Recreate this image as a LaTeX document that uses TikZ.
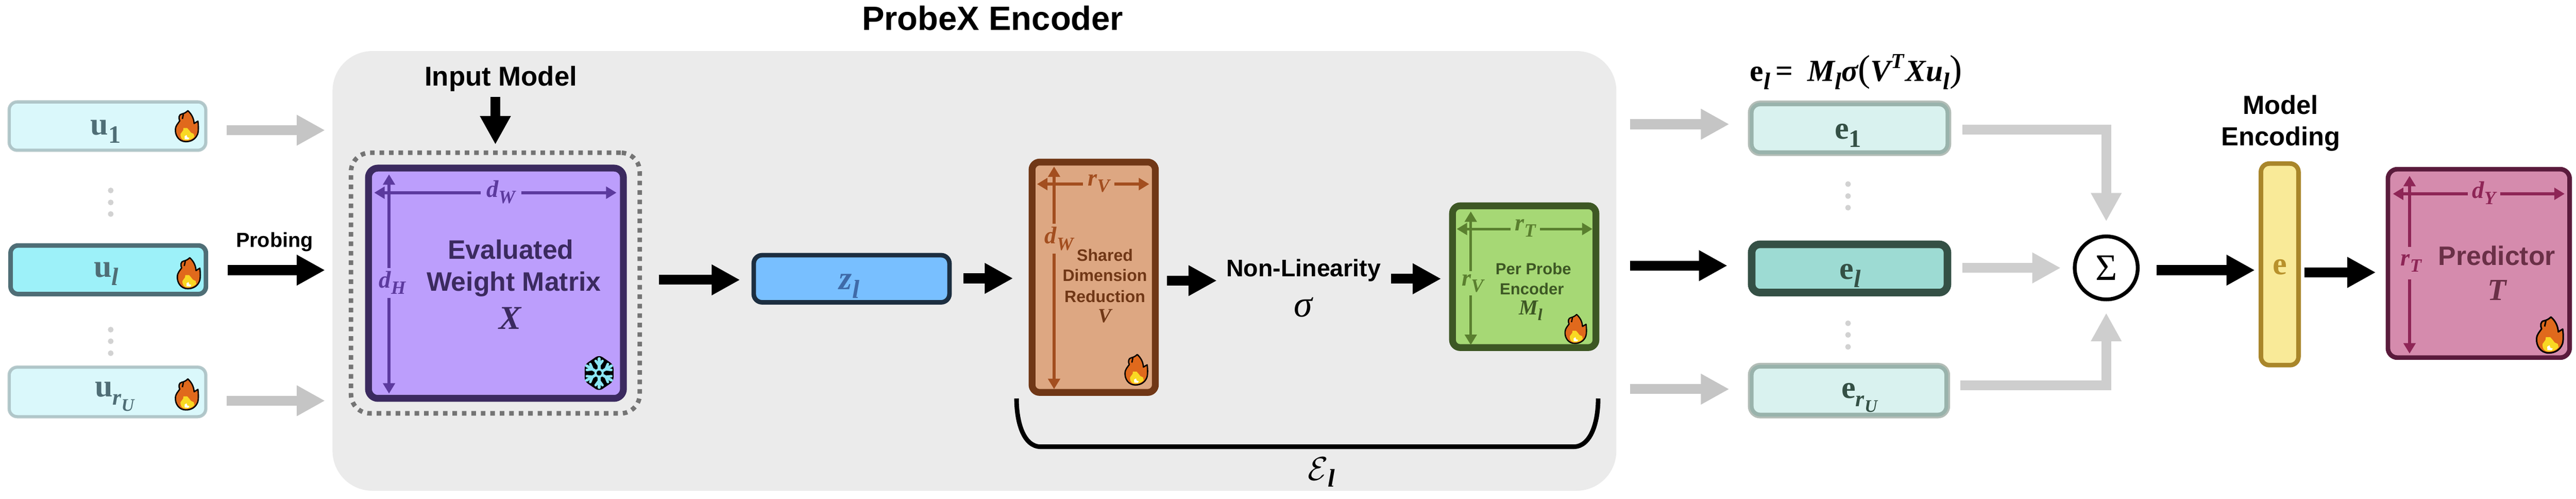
\documentclass[tikz,border=0pt]{standalone}
\usepackage{fontspec}
\usetikzlibrary{arrows.meta,calc}
\setmainfont{Liberation Sans}
\newfontfamily\ser{Liberation Serif}
\def\px{0.28453pt}
\def\py{0.28026pt}
\newcommand\fs[1]{\fontsize{#1}{#1}\selectfont}
\newcommand\bu{\ser\bfseries}
\newcommand\bi{\ser\bfseries\itshape}
\newcommand\msub[3]{{\fs{#1}#2\raisebox{-.26em}{\fs{\fpeval{.78*#1}}#3}}}
\definecolor{pxgray}{HTML}{EBEBEB}
\definecolor{arrgray}{HTML}{C5C5C5}
\definecolor{arrgrayb}{HTML}{CECECE}
\definecolor{dotgray}{HTML}{D2D2D2}
\definecolor{flameor}{HTML}{E0691C}
\definecolor{flameye}{HTML}{F9D823}
\definecolor{icy}{HTML}{8BE6F4}
\definecolor{ulo}{HTML}{B9CBCD}
\definecolor{uli}{HTML}{AFC6C9}
\definecolor{ufl}{HTML}{DAF8FB}
\definecolor{uds}{HTML}{4F6E76}
\definecolor{ufd}{HTML}{9DF1F9}
\definecolor{xs}{HTML}{3B2A5F}
\definecolor{xf}{HTML}{BC9EFC}
\definecolor{xd}{HTML}{5C3A9E}
\definecolor{dotbox}{HTML}{747474}
\definecolor{zs}{HTML}{1C2E40}
\definecolor{zf}{HTML}{78BFFF}
\definecolor{zt}{HTML}{3F6AA8}
\definecolor{vs}{HTML}{703716}
\definecolor{vf}{HTML}{DDA782}
\definecolor{vd}{HTML}{A34E1F}
\definecolor{ms}{HTML}{3D5724}
\definecolor{mf}{HTML}{A6D875}
\definecolor{md}{HTML}{5A7F2F}
\definecolor{elo}{HTML}{B3BDB7}
\definecolor{eli}{HTML}{99B3AC}
\definecolor{efl}{HTML}{D9F2EF}
\definecolor{eds}{HTML}{345045}
\definecolor{efd}{HTML}{9DDBD3}
\definecolor{es}{HTML}{A9862A}
\definecolor{ef}{HTML}{F9EA98}
\definecolor{et}{HTML}{B8912B}
\definecolor{ts}{HTML}{5A1B3C}
\definecolor{tf}{HTML}{D58BAD}
\definecolor{td}{HTML}{8E2556}
\definecolor{tt}{HTML}{6A3047}
\tikzset{
  x=0.01cm,y=-0.00985cm,
  box/.style={rectangle,inner sep=0pt,draw,rounded corners=#1*\px},
  sz/.style n args={2}{minimum width=#1*\px,minimum height=#2*\py},
  lw/.style={line width=#1*\px},
  ubox/.style={box=20,lw=6,draw=uli,fill=ufl,preaction={draw=ulo,line width=11*\px}},
  ebox/.style={box=22,lw=10,draw=eli,fill=efl,preaction={draw=elo,line width=20*\px}},
  txt/.style={inner sep=0pt,font=\bfseries,align=center},
  bigtip/.style={line width=26*\px,-{Triangle[length=21.3pt,width=21.6pt]}},
  blackarr/.style={bigtip,draw=black},
  grayarr/.style={bigtip,draw=arrgray},
  grayarrb/.style={bigtip,draw=arrgrayb},
  dimarr/.style={line width=#1*\px,-{Triangle[length=7.8pt,width=8.8pt]}},
  vdot/.style={circle,fill=dotgray,inner sep=0pt,minimum size=15*\px},
}
\newcommand\flameicon[3]{%
\begin{scope}[shift={(#1,#2)},x={#3/180*0.28453pt},y={-#3/180*0.28453pt}]
\draw[fill=flameor,draw=black,line width={#3/180*2.9pt},line join=round]
 (-5,119) .. controls (-60,119) and (-88,70) .. (-85,25)
 .. controls (-83,-5) and (-65,-20) .. (-52,-40)
 .. controls (-62,-60) and (-60,-90) .. (-35,-93)
 .. controls (-22,-95) and (-2,-105) .. (10,-118)
 .. controls (40,-90) and (55,-60) .. (58,-20)
 -- (87,-38)
 .. controls (92,0) and (92,40) .. (85,60)
 .. controls (70,100) and (35,119) .. (-5,119) -- cycle;
\draw[black,line width={#3/180*2.9pt}] (-24,-92) -- (-32,-55);
\fill[flameye] (-8,110) .. controls (-30,108) and (-48,95) .. (-46,60)
 -- (-26,32) -- (-24,15) -- (5,15) -- (20,32) -- (34,50) -- (55,60) -- (60,82)
 .. controls (45,100) and (20,110) .. (-8,110) -- cycle;
\fill[white] (-14,100) -- (-15,78) -- (0,68) -- (6,85) -- (22,90) -- (14,102) -- cycle;
\end{scope}}
\newcommand\snowicon[2]{%
\begin{scope}[shift={(#1,#2)},x=0.2845pt,y=0.2845pt]
\fill[black,rounded corners=3pt] (90:48) -- (30:44) -- (-30:44) -- (-90:48) -- (-150:44) -- (150:44) -- cycle;
\foreach \a in {30,90,...,330}{
 \begin{scope}[rotate=\a]
 \draw[icy,line width=2.1pt,line cap=round] (10,0) -- (38,0);
 \draw[icy,line width=1.9pt,line cap=round] (20,0) -- (32,9) (20,0) -- (32,-9);
 \end{scope}}
\draw[icy,line width=1.5pt] (0,0) circle (9.5);
\fill[black] (0,0) circle (6);
\end{scope}}
\begin{document}
\begin{tikzpicture}
\useasboundingbox (0,0) rectangle (6794,1333);
% ProbeX box
\node[rectangle,inner sep=0pt,fill=pxgray,rounded corners=105*\px,sz={3384}{1176}] (px) at (2570,724) {};
\node[txt] (pxt) at (2618,48) {\fs{25.2}ProbeX Encoder};
% probes
\node[ubox,sz={516}{127}] (u1) at (283.5,337) {};
\node[box=20,lw=12,draw=uds,fill=ufd,sz={515}{130}] (ul) at (285.5,721) {};
\node[ubox,sz={516}{130}] (uu) at (283.5,1047.5) {};
\node[txt,text=uds] (u1t) at (279,352) {\bu\msub{24}{u}{1}};
\node[txt,text=uds] (ult) at (280,732) {\bu\msub{24}{u}{\itshape l}};
\node[txt,text=uds] (uut) at (302,1060) {\bu\msub{24}{u}{\itshape\msub{17}{r}{U}}};
\flameicon{492}{337}{62}
\flameicon{497}{730}{62}
\flameicon{492}{1054}{62}
\node[vdot] (d1a) at (292,509) {};
\node[vdot] (d1b) at (292,541) {};
\node[vdot] (d1c) at (292,572) {};
\node[vdot] (d2a) at (292,881) {};
\node[vdot] (d2b) at (292,912) {};
\node[vdot] (d2c) at (292,944) {};
\draw[grayarr,shorten <=53*\px,shorten >=19*\px] (u1.east |- 0,348) -- (px.west |- 0,348);
\draw[blackarr,shorten <=51*\px,shorten >=19*\px] (ul.east |- 0,722) -- (px.west |- 0,722);
\draw[grayarr,shorten <=53*\px,shorten >=19*\px] (uu.east |- 0,1071) -- (px.west |- 0,1071);
\node[txt] (prob) at (724,646) {\fs{15.3}Probing};
% X box
\node[txt] (inm) at (1321,210) {\fs{20.4}Input Model};
\node[box=50,lw=12,draw=dotbox,dash pattern=on 3.4pt off 3.7pt,sz={761}{697}] (xd) at (1306.5,756.5) {};
\node[box=25,lw=18,draw=xs,fill=xf,sz={672}{616}] (xb) at (1308,757) {};
\draw[blackarr,shorten >=16*\py] (xd.north |- 0,259) -- (xd.north);
\coordinate (xwl) at (987,515); \coordinate (xwr) at (1626,515);
\coordinate (xht) at (1026,466); \coordinate (xhb) at (1026,1052);
\node[txt,text=xd,minimum width=106*\px] (xw) at (1321,513) {\bi\msub{18}{d}{W}};
\node[txt,text=xd,minimum height=79*\py] (xh) at (1035,756) {\bi\msub{18}{d}{H}};
\draw[dimarr=8,draw=xd] (xwl -| xw.west) -- (xwl);
\draw[dimarr=8,draw=xd] (xwl -| xw.east) -- (xwr);
\draw[dimarr=8,draw=xd] (xht |- xh.north) -- (xht);
\draw[dimarr=8,draw=xd] (xht |- xh.south) -- (xhb);
\node[txt,text=xs] (x1) at (1347,667) {\fs{20}Evaluated};
\node[txt,text=xs] (x2) at (1355,759) {\fs{20}Weight Matrix};
\node[txt,text=xs] (x3) at (1345,850) {\bi\fs{25}X};
\snowicon{1580}{997}
% z
\node[box=22,lw=12,draw=zs,fill=zf,sz={516}{126}] (zl) at (2246,745) {};
\node[txt,text=zt] (zt) at (2240,765) {\bi\msub{25}{z}{l}};
\draw[blackarr,shorten <=44*\px,shorten >=30*\px] (xd.east |- 0,748) -- (zl.west |- 0,748);
% V
\node[box=20,lw=18,draw=vs,fill=vf,sz={325}{616}] (vb) at (2884.5,741) {};
\draw[blackarr,shorten <=31*\px,shorten >=41*\px] (zl.east |- 0,744) -- (vb.west |- 0,744);
\coordinate (vrl) at (2735,492); \coordinate (vrr) at (3031,492);
\coordinate (vdt) at (2780,445); \coordinate (vdb) at (2780,1040);
\node[txt,text=vd,minimum width=81*\px] (vr) at (2898,490) {\bi\msub{18}{r}{V}};
\node[txt,text=vd,minimum height=78*\py] (vw) at (2793,638) {\bi\msub{18}{d}{W}};
\draw[dimarr=8,draw=vd] (vrl -| vr.west) -- (vrl);
\draw[dimarr=8,draw=vd] (vrl -| vr.east) -- (vrr);
\draw[dimarr=8,draw=vd] (vdt |- vw.north) -- (vdt);
\draw[dimarr=8,draw=vd] (vdt |- vw.south) -- (vdb);
\node[txt,text=vs] (v1) at (2914,682) {\fs{12.4}Shared};
\node[txt,text=vs] (v2) at (2914,736) {\fs{12.4}Dimension};
\node[txt,text=vs] (v3) at (2914,792) {\fs{12.4}Reduction};
\node[txt,text=vs] (v4) at (2914,844) {\bi\fs{15}V};
\flameicon{2996}{988}{61}
% non-linearity
\node[txt] (nl) at (3438,722) {\fs{18}Non-Linearity};
\node[txt] (sg) at (3437,822) {\mdseries\ser\itshape\fs{28}σ};
\draw[blackarr,shorten <=22*\px,shorten >=24*\px] (vb.east |- 0,750) -- (nl.west |- 0,750);
% M
\node[box=20,lw=18,draw=ms,fill=mf,sz={378}{379}] (mb) at (4020,739.5) {};
\draw[blackarr,shorten <=26*\px,shorten >=21*\px] (nl.east |- 0,745) -- (mb.west |- 0,745);
\coordinate (mrl) at (3842,612); \coordinate (mrr) at (4200,612);
\coordinate (mvt) at (3879,565); \coordinate (mvb) at (3879,922);
\node[txt,text=md,minimum width=76*\px] (mr) at (4023,610) {\bi\msub{18}{r}{T}};
\node[txt,text=md,minimum height=63*\py] (mv) at (3884,757) {\bi\msub{18}{r}{V}};
\draw[dimarr=7,draw=md] (mrl -| mr.west) -- (mrl);
\draw[dimarr=7,draw=md] (mrl -| mr.east) -- (mrr);
\draw[dimarr=7,draw=md] (mvt |- mv.north) -- (mvt);
\draw[dimarr=7,draw=md] (mvt |- mv.south) -- (mvb);
\node[txt,text=ms] (m1) at (4044,718) {\fs{12}Per Probe};
\node[txt,text=ms] (m2) at (4040,772) {\fs{12}Encoder};
\node[txt,text=ms] (m3) at (4037,830) {\bi\msub{16}{M}{l}};
\flameicon{4155}{879}{58}
% brace
\draw[line width=12*\px,line cap=butt] (2681,1065) .. controls (2681,1130) and (2700,1194) .. (2745,1194) -- (4150,1194) .. controls (4195,1194) and (4215,1130) .. (4215,1065);
\node[txt,font=\normalfont] (el) at (3485,1262) {\fs{24}$\mathcal{E}$\raisebox{-.2em}{\ser\itshape\bfseries\fs{19}l}};
% e boxes
\node[ebox,sz={516}{128}] (e1) at (4878,343) {};
\node[box=22,lw=20,draw=eds,fill=efd,sz={516}{129}] (ell) at (4878,717.5) {};
\node[ebox,sz={513}{128}] (eu) at (4876.5,1044) {};
\node[txt,text=eds] (e1t) at (4874,362) {\bu\msub{24}{e}{1}};
\node[txt,text=eds] (elt) at (4880,737) {\bu\msub{24}{e}{\itshape l}};
\node[txt,text=eds] (eut) at (4904,1063) {\bu\msub{24}{e}{\itshape\msub{17}{r}{U}}};
\node[vdot] (d3a) at (4874,492) {};
\node[vdot] (d3b) at (4874,524) {};
\node[vdot] (d3c) at (4874,555) {};
\node[vdot] (d4a) at (4874,864) {};
\node[vdot] (d4b) at (4874,895) {};
\node[vdot] (d4c) at (4874,927) {};
\draw[grayarr,shorten <=35*\px,shorten >=54*\px] (px.east |- 0,332) -- (e1.west |- 0,332);
\draw[blackarr,shorten <=35*\px,shorten >=54*\px] (px.east |- 0,710) -- (ell.west |- 0,710);
\draw[grayarr,shorten <=35*\px,shorten >=54*\px] (px.east |- 0,1040) -- (eu.west |- 0,1040);
\node[txt,font=\normalfont] (form) at (4895,192) {{\bu\msub{23}{e}{\itshape l}}\kern4pt{\bu\fs{23}=}\kern11pt{\bi\msub{23}{M}{l}\fs{23}σ}{\ser\fs{28}(}{\bi\fs{23}V\raisebox{.42em}{\fs{16}T}\kern1pt X\msub{23}{u}{l}}{\ser\fs{28})}};
% sum
\node[circle,draw=black,lw=10,fill=white,inner sep=0pt,minimum size=166*\px] (sig) at (5555,716) {\ser\fs{28}Σ};
\draw[grayarrb,shorten <=35*\px,shorten >=35*\py] (e1.east |- 0,347) -| (sig.north);
\draw[grayarrb,shorten <=29*\px,shorten >=32*\px] (ell.east |- 0,716) -- (sig.west);
\draw[grayarrb,shorten <=32*\px,shorten >=31*\py] (eu.east |- 0,1030) -| (sig.south);
% e
\node[box=22,lw=12,draw=es,fill=ef,sz={99}{539}] (enc) at (6012.5,706.5) {};
\node[txt,text=et] (enct) at (6013,714) {\bu\fs{24}e};
\node[txt] (me1) at (6015,280) {\fs{19.6}Model};
\node[txt] (me2) at (6015,371) {\fs{19.6}Encoding};
\draw[blackarr,shorten <=45*\px,shorten >=10*\px] (sig.east |- 0,722) -- (enc.west |- 0,722);
% T
\node[box=25,lw=12,draw=ts,fill=tf,sz={479}{504}] (tb) at (6537.5,704) {};
\draw[blackarr,shorten <=10*\px,shorten >=26*\px] (enc.east |- 0,728) -- (tb.west |- 0,728);
\coordinate (tyl) at (6311,518); \coordinate (tyr) at (6764,518);
\coordinate (trt) at (6355,470); \coordinate (trb) at (6355,945);
\node[txt,text=td,minimum width=84*\px] (ty) at (6551,516) {\bi\msub{18}{d}{Y}};
\node[txt,text=td,minimum height=85*\py] (tr) at (6359,703) {\bi\msub{18}{r}{T}};
\draw[dimarr=7,draw=td] (tyl -| ty.west) -- (tyl);
\draw[dimarr=7,draw=td] (tyl -| ty.east) -- (tyr);
\draw[dimarr=7,draw=td] (trt |- tr.north) -- (trt);
\draw[dimarr=7,draw=td] (trt |- tr.south) -- (trb);
\node[txt,text=tt] (t1) at (6585,684) {\fs{20}Predictor};
\node[txt,text=tt] (t2) at (6585,775) {\bi\fs{23}T};
\flameicon{6724}{895}{72}
\end{tikzpicture}
\end{document}
